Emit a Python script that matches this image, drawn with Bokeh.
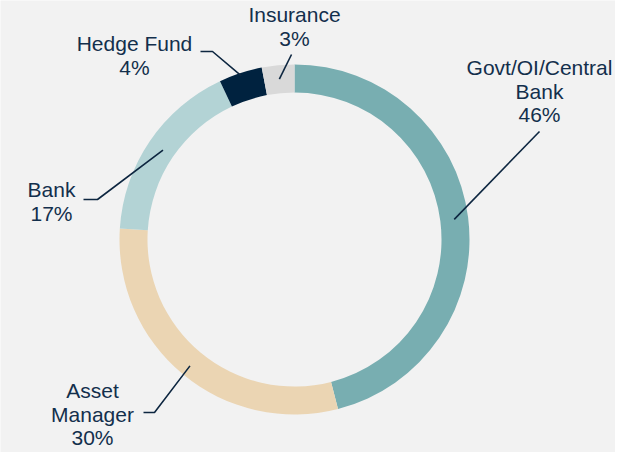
import numpy as np
from bokeh.plotting import figure
from bokeh.models import Range1d, ColumnDataSource
from bokeh.core.properties import value
from bokeh.embed import file_html
from bokeh.resources import INLINE

# ---- data ----
categories = ["Govt/OI/Central Bank", "Asset Manager", "Bank", "Hedge Fund", "Insurance"]
shares = [46, 30, 17, 4, 3]
name_lines = [["Govt/OI/Central", "Bank"], ["Asset", "Manager"], ["Bank"], ["Hedge Fund"], ["Insurance"]]
colors = ["#78aeb1", "#ebd5b3", "#b3d3d5", "#00223f", "#d9d9d9"]

# ---- layout (pixel-like coordinates, y downwards as negative) ----
CX, CY = 294, 241
R_OUT, R_IN = 175, 147
label_anchor = [(539, 69), (92, 392), (51, 191), (134, 45), (294, 16)]
leader_start = [[(539, 133)], [(143, 414), (154, 414)], [(83, 201), (97, 201)],
                [(200, 53), (212, 53)], [(291, 56)]]
leader_r = [161, 164, 159, 172, 161]
LINE_H = 23.5
BG = "#f2f2f2"
TXT = "#132f4c"
LEAD = "#0d2640"

vals = np.array(shares, dtype=float)
frac = vals / vals.sum()
cum = np.concatenate([[0], np.cumsum(frac)])
start = np.pi / 2 - 2 * np.pi * cum[:-1]
end = np.pi / 2 - 2 * np.pi * cum[1:]
mid = (start + end) / 2

p = figure(width=615, height=452, x_range=Range1d(0, 615), y_range=Range1d(-454, -2),
           output_backend="svg", toolbar_location=None, min_border=0)
p.axis.visible = False
p.grid.visible = False
p.outline_line_color = None
p.background_fill_color = BG
p.border_fill_color = BG

src = ColumnDataSource(dict(start=start, end=end, color=colors, cat=categories))
p.annular_wedge(x=CX, y=-CY, inner_radius=R_IN, outer_radius=R_OUT,
                start_angle="start", end_angle="end", direction="clock",
                fill_color="color", line_color=None, source=src)

# labels
tx, ty, tt = [], [], []
for i, (lines, v) in enumerate(zip(name_lines, shares)):
    ax, ay = label_anchor[i]
    all_lines = lines + [f"{v}%"]
    for k, s in enumerate(all_lines):
        tx.append(ax)
        ty.append(-(ay + k * LINE_H))
        tt.append(s)
p.text(x=tx, y=ty, text=tt, text_align="center", text_baseline="middle",
       text_font=value("Liberation Sans"), text_font_size="21px", text_color=TXT)

# leader lines
xs, ys = [], []
for i in range(len(shares)):
    ex = CX + leader_r[i] * np.cos(mid[i])
    ey = CY - leader_r[i] * np.sin(mid[i])
    pts = leader_start[i] + [(ex, ey)]
    xs.append([q[0] for q in pts])
    ys.append([-q[1] for q in pts])
p.multi_line(xs=xs, ys=ys, line_color=LEAD, line_width=1.6)

open("out.html", "w").write(file_html(p, INLINE))
